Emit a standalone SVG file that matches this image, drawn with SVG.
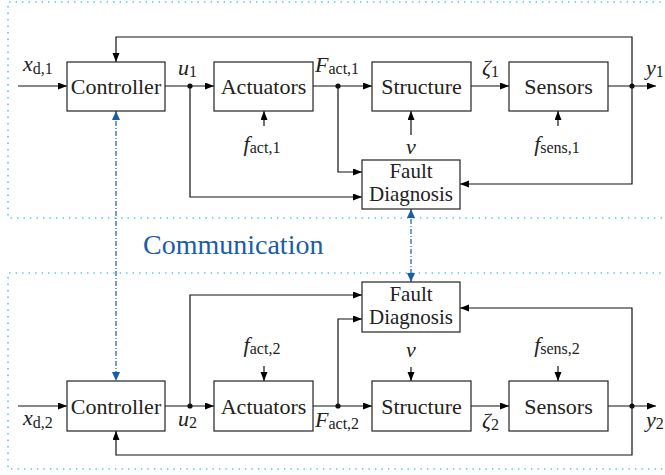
<svg xmlns="http://www.w3.org/2000/svg" width="665" height="475" viewBox="0 0 665 475">
<defs>
<marker id="ah" markerUnits="userSpaceOnUse" markerWidth="10" markerHeight="8" refX="9" refY="3.5" orient="auto">
<path d="M0,0 L9,3.5 L0,7 z" fill="#000"/>
</marker>
<marker id="bh" markerUnits="userSpaceOnUse" markerWidth="10" markerHeight="10" refX="9" refY="4" orient="auto">
<path d="M0,0 L9,4 L0,8 z" fill="#1a5da6"/>
</marker>
<marker id="bs" markerUnits="userSpaceOnUse" markerWidth="10" markerHeight="10" refX="0" refY="4" orient="auto">
<path d="M9,0 L0,4 L9,8 z" fill="#1a5da6"/>
</marker>
</defs>
<style>
.box{fill:#fff;stroke:#222;stroke-width:1.2}
.ln{fill:none;stroke:#111;stroke-width:1.2;marker-end:url(#ah)}
.dot{fill:#111}
.region{fill:none;stroke:#4cc9f0;stroke-width:1.6;stroke-dasharray:1.4 5.1}
.comm{fill:none;stroke:#1a5da6;stroke-width:1.2;stroke-dasharray:5 2 1 2;marker-start:url(#bs);marker-end:url(#bh)}
text{font-family:'Liberation Serif',serif;fill:#222}
.bt{font-size:22px;text-anchor:middle}
.ft{font-size:21px;text-anchor:middle}
.m{font-size:22px;font-style:italic}
.c{text-anchor:middle}
.s{font-style:normal;font-size:16px}
.cm{font-size:28px;fill:#1a5da6}
</style>

<g id="regions">
<path class="region" d="M680,2 H8 V218 H680"/>
<path class="region" d="M680,273 H8 V469 H680"/>
</g>

<g id="connectors">
<path class="ln" d="M18,86 H67"/>
<path class="ln" d="M165,86 H214"/>
<path class="ln" d="M313,86 H372"/>
<path class="ln" d="M471,86 H509"/>
<path class="ln" d="M608,86 H656"/>
<path class="ln" d="M632,86 V37 H116 V62"/>
<path class="ln" d="M264,126 V111"/>
<path class="ln" d="M411,135 V111"/>
<path class="ln" d="M558,126 V111"/>
<path class="ln" d="M338,86 V172 H362"/>
<path class="ln" d="M190,86 V197 H362"/>
<path class="ln" d="M632,86 V184 H460"/>
<path class="ln" d="M18,406 H67"/>
<path class="ln" d="M165,406 H214"/>
<path class="ln" d="M313,406 H372"/>
<path class="ln" d="M471,406 H509"/>
<path class="ln" d="M608,406 H656"/>
<path class="ln" d="M632,406 V455 H116 V431"/>
<path class="ln" d="M264,366 V381"/>
<path class="ln" d="M411,367 V381"/>
<path class="ln" d="M558,366 V381"/>
<path class="ln" d="M338,406 V319 H362"/>
<path class="ln" d="M190,406 V295 H362"/>
<path class="ln" d="M632,406 V308 H460"/>
<circle class="dot" cx="190" cy="86" r="2.6"/>
<circle class="dot" cx="338" cy="86" r="2.6"/>
<circle class="dot" cx="632" cy="86" r="2.6"/>
<circle class="dot" cx="190" cy="406" r="2.6"/>
<circle class="dot" cx="338" cy="406" r="2.6"/>
<circle class="dot" cx="632" cy="406" r="2.6"/>
<path class="comm" d="M116,111 V381"/>
<path class="comm" d="M411,209 V282"/>
</g>

<g id="controller1"><rect class="box" x="67" y="62" width="98" height="49"/><text class="bt" x="116" y="93.5">Controller</text></g>
<g id="actuators1"><rect class="box" x="214" y="62" width="99" height="49"/><text class="bt" x="263.5" y="93.5">Actuators</text></g>
<g id="structure1"><rect class="box" x="372" y="62" width="99" height="49"/><text class="bt" x="421.5" y="93.5">Structure</text></g>
<g id="sensors1"><rect class="box" x="509" y="62" width="99" height="49"/><text class="bt" x="558.5" y="93.5">Sensors</text></g>
<g id="fault1"><rect class="box" x="362" y="160" width="98" height="49"/><text class="ft" x="411" y="178">Fault</text><text class="ft" x="411" y="200.5">Diagnosis</text></g>

<g id="controller2"><rect class="box" x="67" y="381" width="98" height="50"/><text class="bt" x="116" y="413.5">Controller</text></g>
<g id="actuators2"><rect class="box" x="214" y="381" width="99" height="50"/><text class="bt" x="263.5" y="413.5">Actuators</text></g>
<g id="structure2"><rect class="box" x="372" y="381" width="99" height="50"/><text class="bt" x="421.5" y="413.5">Structure</text></g>
<g id="sensors2"><rect class="box" x="509" y="381" width="99" height="50"/><text class="bt" x="558.5" y="413.5">Sensors</text></g>
<g id="fault2"><rect class="box" x="362" y="282" width="98" height="50"/><text class="ft" x="411" y="301">Fault</text><text class="ft" x="411" y="323.5">Diagnosis</text></g>

<g id="labels">
<text class="m" x="23" y="71">x<tspan class="s" dy="3">d,1</tspan></text>
<text class="m" x="178" y="75">u<tspan class="s" dy="2">1</tspan></text>
<text class="m" x="315" y="72">F<tspan class="s" dy="2">act,1</tspan></text>
<text class="m" x="482" y="75">ζ<tspan class="s" dy="2">1</tspan></text>
<text class="m" x="646" y="75">y<tspan class="s" dy="2">1</tspan></text>
<text class="m c" x="262" y="151">f<tspan class="s" dy="2">act,1</tspan></text>
<text class="m c" x="411" y="154">v</text>
<text class="m c" x="557" y="151">f<tspan class="s" dy="2">sens,1</tspan></text>

<text class="m" x="23" y="425">x<tspan class="s" dy="3">d,2</tspan></text>
<text class="m" x="178" y="426">u<tspan class="s" dy="2">2</tspan></text>
<text class="m" x="315" y="427">F<tspan class="s" dy="2">act,2</tspan></text>
<text class="m" x="482" y="428">ζ<tspan class="s" dy="2">2</tspan></text>
<text class="m" x="646" y="427">y<tspan class="s" dy="2">2</tspan></text>
<text class="m c" x="262" y="352">f<tspan class="s" dy="2">act,2</tspan></text>
<text class="m c" x="411" y="357">v</text>
<text class="m c" x="557" y="352">f<tspan class="s" dy="2">sens,2</tspan></text>

<text class="cm" x="143" y="254">Communication</text>
</g>
</svg>
